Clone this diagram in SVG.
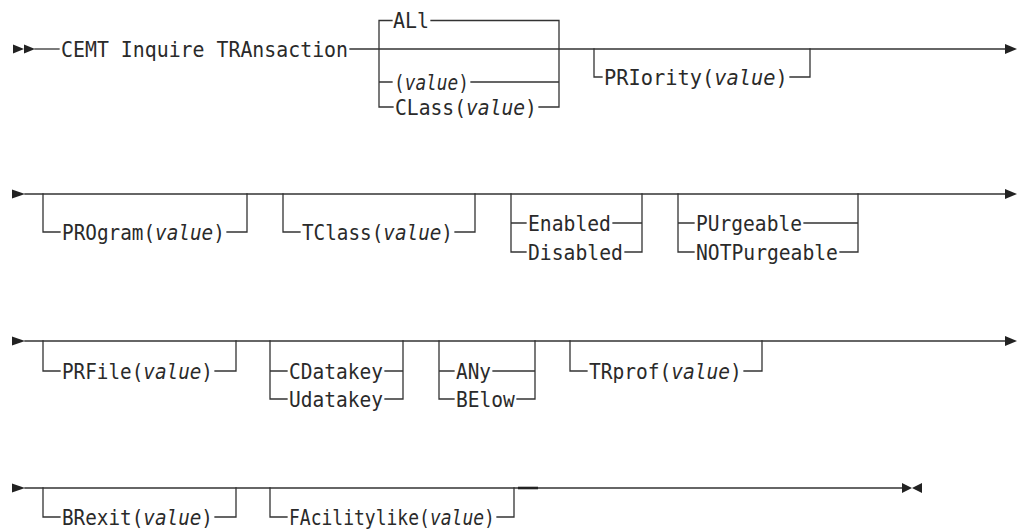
<svg xmlns="http://www.w3.org/2000/svg" width="1019" height="529" viewBox="0 0 1019 529">
<style>
.ln{fill:none;stroke:#333;stroke-width:1.3;stroke-linecap:square}
.ar{fill:#222}
.t{font-family:"DejaVu Sans Mono","Liberation Mono",monospace;font-size:21px;fill:#2a2a2a}
.i{font-style:italic}
</style>
<rect width="1019" height="529" fill="#fff"/>
<g id="connectors">
<!-- row 1 -->
<polygon class="ar" points="13,44.5 24,49 13,53.5"/>
<polygon class="ar" points="24,44.5 35,49 24,53.5"/>
<path class="ln" d="M35,49 H59"/>
<path class="ln" d="M350,49 H1005"/>
<polygon class="ar" points="1005,44 1017,49 1005,54"/>
<path class="ln" d="M392,20.5 H379 V107 H393 M379,82 H392 M431,20.5 H559 V107 H539 M471,82 H559"/>
<path class="ln" d="M594,49 V77 H602 M790,77 H810 V49"/>
<!-- row 2 -->
<polygon class="ar" points="12,189.5 25,194 12,198.5"/>
<path class="ln" d="M25,194 H1005"/>
<polygon class="ar" points="1005,189 1017,194 1005,199"/>
<path class="ln" d="M43,194 V232 H60 M227,232 H247 V194"/>
<path class="ln" d="M283,194 V232 H300 M455,232 H475 V194"/>
<path class="ln" d="M511,194 V252 H526 M511,223 H526 M613,223 H642 M625,252 H642 V194"/>
<path class="ln" d="M678,194 V252 H694 M678,223 H694 M804,223 H858 M840,252 H858 V194"/>
<!-- row 3 -->
<polygon class="ar" points="12,336.5 25,341 12,345.5"/>
<path class="ln" d="M25,341 H1005"/>
<polygon class="ar" points="1005,336 1017,341 1005,346"/>
<path class="ln" d="M43,341 V371 H60 M215,371 H236 V341"/>
<path class="ln" d="M270,341 V399 H287 M270,371 H287 M385,371 H403 M385,399 H403 V341"/>
<path class="ln" d="M439,341 V399 H454 M439,371 H454 M493,371 H535 M517,399 H535 V341"/>
<path class="ln" d="M570,341 V371 H587 M744,371 H762 V341"/>
<!-- row 4 -->
<polygon class="ar" points="12,483.5 25,488 12,492.5"/>
<path class="ln" d="M25,488 H902"/>
<path d="M518,488 H538" stroke="#222" stroke-width="2.6"/>
<polygon class="ar" points="902,483 912,488 902,493"/>
<polygon class="ar" points="922,483 912,488 922,493"/>
<path class="ln" d="M43,488 V517 H60 M215,517 H236 V488"/>
<path class="ln" d="M270,488 V517 H287 M497,517 H514 V488"/>
</g>
<g id="n-cemt"><text class="t" transform="translate(61,56.6) scale(0.946,1)">CEMT Inquire TRAnsaction</text></g>
<g id="n-all"><text class="t" transform="translate(393,28.3) scale(0.95,1)">ALl</text></g>
<g id="n-value"><text class="t" transform="translate(394,89.6) scale(0.847,1)">(<tspan class="i">value</tspan>)</text></g>
<g id="n-class"><text class="t" transform="translate(395,114.6) scale(0.936,1)">CLass(<tspan class="i">value</tspan>)</text></g>
<g id="n-priority"><text class="t" transform="translate(604,84.6) scale(0.97,1)">PRIority(<tspan class="i">value</tspan>)</text></g>
<g id="n-program"><text class="t" transform="translate(62,239.6) scale(0.921,1)">PROgram(<tspan class="i">value</tspan>)</text></g>
<g id="n-tclass"><text class="t" transform="translate(302,239.6) scale(0.919,1)">TClass(<tspan class="i">value</tspan>)</text></g>
<g id="n-enabled"><text class="t" transform="translate(528,230.6) scale(0.938,1)">Enabled</text></g>
<g id="n-disabled"><text class="t" transform="translate(528,259.6) scale(0.939,1)">Disabled</text></g>
<g id="n-purgeable"><text class="t" transform="translate(696,230.6) scale(0.932,1)">PUrgeable</text></g>
<g id="n-notpurgeable"><text class="t" transform="translate(696,259.6) scale(0.936,1)">NOTPurgeable</text></g>
<g id="n-prfile"><text class="t" transform="translate(62,378.6) scale(0.919,1)">PRFile(<tspan class="i">value</tspan>)</text></g>
<g id="n-cdatakey"><text class="t" transform="translate(289,378.6) scale(0.93,1)">CDatakey</text></g>
<g id="n-udatakey"><text class="t" transform="translate(289,406.6) scale(0.93,1)">Udatakey</text></g>
<g id="n-any"><text class="t" transform="translate(456,378.6) scale(0.923,1)">ANy</text></g>
<g id="n-below"><text class="t" transform="translate(456,406.6) scale(0.933,1)">BElow</text></g>
<g id="n-trprof"><text class="t" transform="translate(589,378.6) scale(0.931,1)">TRprof(<tspan class="i">value</tspan>)</text></g>
<g id="n-brexit"><text class="t" transform="translate(62,524.6) scale(0.919,1)">BRexit(<tspan class="i">value</tspan>)</text></g>
<g id="n-facilitylike"><text class="t" transform="translate(289,524.6) scale(0.858,1)">FAcilitylike(<tspan class="i">value</tspan>)</text></g>
</svg>
